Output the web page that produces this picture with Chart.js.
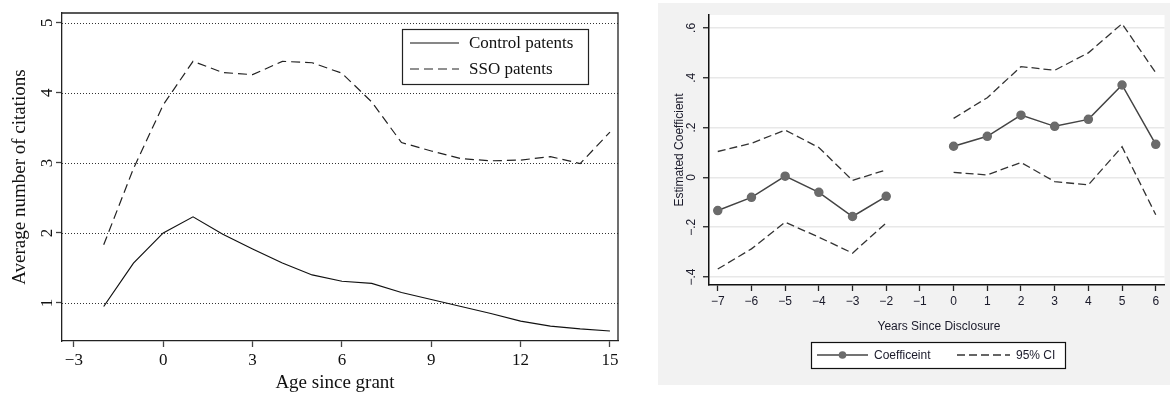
<!DOCTYPE html>
<html>
<head>
<meta charset="utf-8">
<script src="https://cdn.jsdelivr.net/npm/chart.js@4/dist/chart.umd.min.js"></script>
<style>
  body { margin: 0; background: #fff; width: 1171px; height: 396px; position: relative; overflow: hidden; }
  #leftbox { position: absolute; left: 0; top: 0; width: 640px; height: 396px; }
  #rightbox { position: absolute; left: 658px; top: 3px; width: 512px; height: 382px; background: #f2f2f2; }
</style>
</head>
<body>
<div id="leftbox"><canvas id="citecnv"></canvas></div>
<div id="rightbox"><canvas id="coefcnv"></canvas></div>
<script>
// left panel: citations by age since grant
const ages = [-2, -1, 0, 1, 2, 3, 4, 5, 6, 7, 8, 9, 10, 11, 12, 13, 14, 15];
const controlPatents = [0.95, 1.57, 2.0, 2.23, 1.98, 1.77, 1.57, 1.40, 1.31, 1.28, 1.15, 1.05, 0.95, 0.85, 0.74, 0.67, 0.63, 0.60];
const ssoPatents = [1.83, 2.92, 3.83, 4.45, 4.29, 4.26, 4.45, 4.43, 4.28, 3.87, 3.29, 3.17, 3.06, 3.03, 3.04, 3.09, 2.99, 3.44];
const ageTicks = [-3, 0, 3, 6, 9, 12, 15];
const citationTicks = [1, 2, 3, 4, 5];

// right panel: event study coefficients
const years = [-7, -6, -5, -4, -3, -2, -1, 0, 1, 2, 3, 4, 5, 6];
const coefficient = [-0.133, -0.08, 0.005, -0.06, -0.157, -0.076, null, 0.125, 0.165, 0.25, 0.205, 0.233, 0.371, 0.133];
const ciUpper = [0.104, 0.137, 0.19, 0.12, -0.012, 0.03, null, 0.237, 0.32, 0.445, 0.43, 0.5, 0.617, 0.42];
const ciLower = [-0.368, -0.287, -0.18, -0.24, -0.304, -0.183, null, 0.02, 0.01, 0.06, -0.017, -0.03, 0.123, -0.15];
const yearTicks = [-7, -6, -5, -4, -3, -2, -1, 0, 1, 2, 3, 4, 5, 6];
const coefTicks = [-0.4, -0.2, 0, 0.2, 0.4, 0.6];

const SERIF = '"Liberation Serif", "DejaVu Serif", serif';
const SANS = '"Liberation Sans", Arial, sans-serif';

function pts(xs, ys) {
  return xs.map((x, i) => ({ x: x, y: ys[i] }));
}

function fmtCoef(v) {
  if (Math.abs(v) < 1e-9) return '0';
  const s = Math.abs(v).toFixed(1).replace(/^0/, '');
  return (v < 0 ? '\u2212' : '') + s;
}

function fmtAge(v) {
  return (v < 0 ? '\u2212' : '') + Math.abs(v);
}

const leftDecor = {
  id: 'leftDecor',
  beforeDatasetsDraw(chart) {
    // dotted horizontal grid
    const ctx = chart.ctx;
    const a = chart.chartArea;
    const ys = chart.scales.y;
    ctx.save();
    ctx.strokeStyle = '#333';
    ctx.lineWidth = 1;
    ctx.setLineDash([1, 2]);
    citationTicks.forEach(v => {
      const py = Math.round(ys.getPixelForValue(v)) + 0.5;
      ctx.beginPath();
      ctx.moveTo(a.left, py);
      ctx.lineTo(a.right, py);
      ctx.stroke();
    });
    ctx.restore();
  },
  afterDraw(chart) {
    const ctx = chart.ctx;
    const a = chart.chartArea;
    const ys = chart.scales.y;
    ctx.save();
    // top and right of the box
    ctx.strokeStyle = '#222';
    ctx.lineWidth = 1.3;
    ctx.beginPath();
    ctx.moveTo(a.left, a.top);
    ctx.lineTo(a.right, a.top);
    ctx.lineTo(a.right, a.bottom);
    ctx.stroke();

    // rotated y tick labels
    ctx.fillStyle = '#111';
    ctx.font = '17px ' + SERIF;
    ctx.textAlign = 'center';
    ctx.textBaseline = 'middle';
    citationTicks.forEach(v => {
      ctx.save();
      ctx.translate(48, ys.getPixelForValue(v));
      ctx.rotate(-Math.PI / 2);
      ctx.fillText(String(v), 0, 0);
      ctx.restore();
    });

    // axis titles
    ctx.font = '19px ' + SERIF;
    ctx.save();
    ctx.translate(20, (a.top + a.bottom) / 2);
    ctx.rotate(-Math.PI / 2);
    ctx.fillText('Average number of citations', 0, 0);
    ctx.restore();
    ctx.fillText('Age since grant', 335, 383);

    // legend box
    ctx.lineWidth = 1.2;
    ctx.strokeStyle = '#222';
    ctx.strokeRect(402.5, 29.5, 186, 55);
    ctx.font = '17px ' + SERIF;
    ctx.textAlign = 'left';
    chart.data.datasets.forEach((ds, i) => {
      const y = 43 + i * 26;
      ctx.beginPath();
      ctx.setLineDash(ds.borderDash || []);
      ctx.lineWidth = ds.borderWidth;
      ctx.strokeStyle = ds.borderColor;
      ctx.moveTo(410, y);
      ctx.lineTo(459, y);
      ctx.stroke();
      ctx.setLineDash([]);
      ctx.fillText(ds.label, 469, y + 1);
    });
    ctx.restore();
  }
};

new Chart(document.getElementById('citecnv').getContext('2d'), {
  type: 'line',
  data: {
    datasets: [
      { label: 'Control patents', data: pts(ages, controlPatents), borderColor: '#111', borderWidth: 1.2, pointRadius: 0, tension: 0 },
      { label: 'SSO patents', data: pts(ages, ssoPatents), borderColor: '#222', borderWidth: 1.2, borderDash: [9, 5], pointRadius: 0, tension: 0 }
    ]
  },
  options: {
    responsive: true,
    maintainAspectRatio: false,
    animation: false,
    layout: { padding: { top: 13, right: 22, left: 0, bottom: 0 } },
    plugins: { legend: { display: false }, tooltip: { enabled: false } },
    scales: {
      x: {
        type: 'linear',
        min: -3.4,
        max: 15.27,
        afterBuildTicks: s => { s.ticks = ageTicks.map(v => ({ value: v })); },
        afterFit: s => { s.height = 55; },
        ticks: { autoSkip: false, maxRotation: 0, padding: 3, color: '#111', font: { family: SERIF, size: 17 }, callback: v => fmtAge(v) },
        grid: { drawOnChartArea: false, drawTicks: true, tickLength: 6, tickColor: '#444', tickWidth: 1.3 },
        border: { display: true, color: '#222', width: 1.3 }
      },
      y: {
        min: 0.457,
        max: 5.14,
        afterBuildTicks: s => { s.ticks = citationTicks.map(v => ({ value: v })); },
        afterFit: s => { s.width = 62; },
        ticks: { autoSkip: false, color: 'rgba(0,0,0,0)' },
        grid: { drawOnChartArea: false, tickLength: 6, tickColor: '#444', tickWidth: 1.3 },
        border: { display: true, color: '#222', width: 1.3 }
      }
    }
  },
  plugins: [leftDecor]
});

const rightDecor = {
  id: 'rightDecor',
  beforeDraw(chart) {
    const ctx = chart.ctx;
    const a = chart.chartArea;
    ctx.save();
    ctx.fillStyle = '#ffffff';
    ctx.fillRect(a.left, a.top, a.right - a.left, a.bottom - a.top);
    ctx.restore();
  },
  afterDraw(chart) {
    const ctx = chart.ctx;
    const a = chart.chartArea;
    const ys = chart.scales.y;
    ctx.save();
    ctx.fillStyle = '#1a1a2a';
    ctx.font = '12px ' + SANS;
    ctx.textAlign = 'center';
    ctx.textBaseline = 'middle';
    coefTicks.forEach(v => {
      ctx.save();
      ctx.translate(34, ys.getPixelForValue(v));
      ctx.rotate(-Math.PI / 2);
      ctx.fillText(fmtCoef(v), 0, 0);
      ctx.restore();
    });
    ctx.save();
    ctx.translate(22, (a.top + a.bottom) / 2);
    ctx.rotate(-Math.PI / 2);
    ctx.fillText('Estimated Coefficient', 0, 0);
    ctx.restore();
    ctx.fillText('Years Since Disclosure', 281, 324);

    // legend
    ctx.fillStyle = '#ffffff';
    ctx.fillRect(153, 339, 254, 26);
    ctx.strokeStyle = '#111';
    ctx.lineWidth = 1.2;
    ctx.strokeRect(153.5, 339.5, 254, 26);
    const ly = 352;
    ctx.lineWidth = 1.5;
    ctx.strokeStyle = '#444';
    ctx.beginPath();
    ctx.moveTo(159, ly);
    ctx.lineTo(210, ly);
    ctx.stroke();
    ctx.fillStyle = '#6b6b6b';
    ctx.beginPath();
    ctx.arc(184.5, ly, 3.8, 0, Math.PI * 2);
    ctx.fill();
    ctx.setLineDash([8, 4]);
    ctx.strokeStyle = '#333';
    ctx.lineWidth = 1.3;
    ctx.beginPath();
    ctx.moveTo(299, ly);
    ctx.lineTo(352, ly);
    ctx.stroke();
    ctx.setLineDash([]);
    ctx.fillStyle = '#1a1a2a';
    ctx.textAlign = 'left';
    ctx.fillText('Coefficeint', 216, ly + 1);
    ctx.fillText('95% CI', 358, ly + 1);
    ctx.restore();
  }
};

new Chart(document.getElementById('coefcnv').getContext('2d'), {
  type: 'line',
  data: {
    datasets: [
      { label: 'Coefficeint', data: pts(years, coefficient), borderColor: '#444', borderWidth: 1.5, pointRadius: 4, pointBackgroundColor: '#6b6b6b', pointBorderColor: '#6b6b6b', tension: 0, spanGaps: false },
      { label: '95% CI', data: pts(years, ciUpper), borderColor: '#333', borderWidth: 1.3, borderDash: [8, 4], pointRadius: 0, tension: 0, spanGaps: false },
      { label: '95% CI lower', data: pts(years, ciLower), borderColor: '#333', borderWidth: 1.3, borderDash: [8, 4], pointRadius: 0, tension: 0, spanGaps: false }
    ]
  },
  options: {
    responsive: true,
    maintainAspectRatio: false,
    animation: false,
    layout: { padding: { top: 12, right: 2, left: 0, bottom: 0 } },
    plugins: { legend: { display: false }, tooltip: { enabled: false } },
    scales: {
      x: {
        type: 'linear',
        min: -7.26,
        max: 6.26,
        afterBuildTicks: s => { s.ticks = yearTicks.map(v => ({ value: v })); },
        afterFit: s => { s.height = 100; },
        ticks: { autoSkip: false, maxRotation: 0, padding: 3, color: '#1a1a2a', font: { family: SANS, size: 12 }, callback: v => fmtAge(v) },
        grid: { drawOnChartArea: false, drawTicks: true, tickLength: 6, tickColor: '#222', tickWidth: 1.3 },
        border: { display: true, color: '#111', width: 1.5 }
      },
      y: {
        min: -0.432,
        max: 0.652,
        afterBuildTicks: s => { s.ticks = coefTicks.map(v => ({ value: v })); },
        afterFit: s => { s.width = 51; },
        ticks: { autoSkip: false, color: 'rgba(0,0,0,0)' },
        grid: { color: '#e8e8e8', lineWidth: 1.5, tickLength: 6, tickColor: '#222', tickWidth: 1.3 },
        border: { display: true, color: '#111', width: 1.5 }
      }
    }
  },
  plugins: [rightDecor]
});
</script>
</body>
</html>
